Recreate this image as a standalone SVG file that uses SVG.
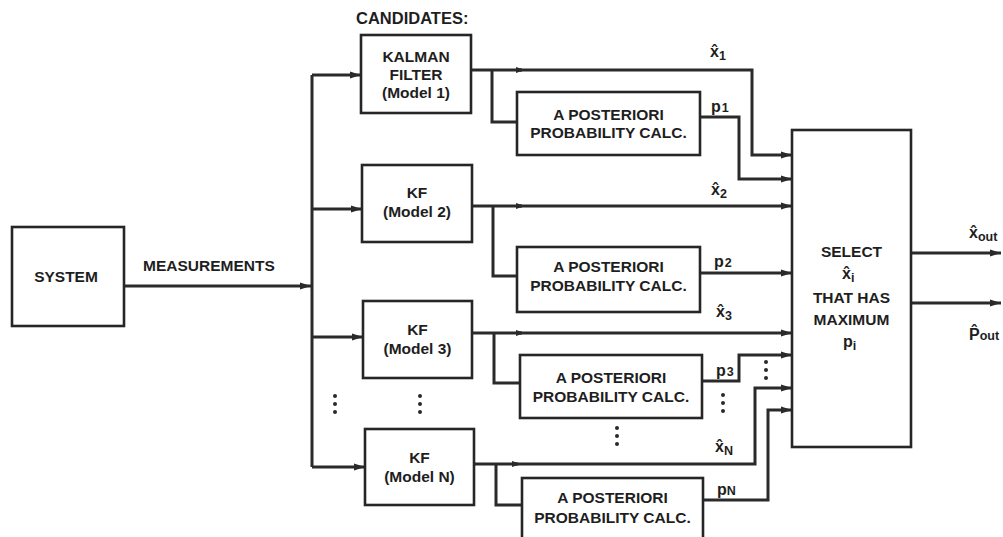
<svg xmlns="http://www.w3.org/2000/svg" width="1003" height="537" viewBox="0 0 1003 537">
<style>
.box{fill:#fff;stroke:#262626;stroke-width:2.6}
.ln{fill:none;stroke:#2a2a2a;stroke-width:3;stroke-linejoin:miter}
text{font-family:"Liberation Sans",Arial,sans-serif;font-weight:bold;fill:#1e1e1e;font-size:15.5px}
.c{text-anchor:middle}
.v{font-size:16px}
.sub{font-size:12.5px}
.dot{fill:#2a2a2a}
</style>
<defs>
<marker id="ah" markerUnits="userSpaceOnUse" markerWidth="12" markerHeight="8" refX="11" refY="4" orient="auto">
<path d="M0,0.5 L11,4 L0,7.5 z" fill="#2a2a2a"/>
</marker>
<marker id="am" markerUnits="userSpaceOnUse" markerWidth="10" markerHeight="8" refX="6" refY="3.5" orient="auto">
<path d="M0,0.5 L9,3.5 L0,6.5 z" fill="#2a2a2a"/>
</marker>
</defs>
<g id="connectors">
<path class="ln" d="M124,286 H311" marker-end="url(#ah)"/>
<path class="ln" d="M312,75 V467"/>
<path class="ln" d="M312,75 H361" marker-end="url(#ah)"/>
<path class="ln" d="M312,209 H362" marker-end="url(#ah)"/>
<path class="ln" d="M312,337 H363" marker-end="url(#ah)"/>
<path class="ln" d="M312,467 H365" marker-end="url(#ah)"/>
<path class="ln" d="M471,70 H522" marker-end="url(#am)"/>
<path class="ln" d="M520,70 H752 V155 H792" marker-end="url(#ah)"/>
<path class="ln" d="M492,70 V122 H517"/>
<path class="ln" d="M700,117 H739 V179 H792" marker-end="url(#ah)"/>
<path class="ln" d="M472,206 H522" marker-end="url(#am)"/>
<path class="ln" d="M520,206 H792" marker-end="url(#ah)"/>
<path class="ln" d="M493,206 V276 H517"/>
<path class="ln" d="M700,273 H792" marker-end="url(#ah)"/>
<path class="ln" d="M472,333 H522" marker-end="url(#am)"/>
<path class="ln" d="M520,333 H792" marker-end="url(#ah)"/>
<path class="ln" d="M494,333 V383 H520"/>
<path class="ln" d="M702,381 H739 V355 H792" marker-end="url(#ah)"/>
<path class="ln" d="M474,464 H518" marker-end="url(#am)"/>
<path class="ln" d="M516,464 H755 V388 H792" marker-end="url(#ah)"/>
<path class="ln" d="M496,464 V505 H522"/>
<path class="ln" d="M703,500 H768 V410 H792" marker-end="url(#ah)"/>
<path class="ln" d="M911,253 H1001" marker-end="url(#ah)"/>
<path class="ln" d="M911,303 H1001" marker-end="url(#ah)"/>
</g>
<g id="system">
<rect class="box" x="12" y="227" width="112" height="99"/>
<text class="c" x="66" y="282">SYSTEM</text>
</g>
<text id="measurements" x="143" y="271">MEASUREMENTS</text>
<text id="candidates" x="356" y="24" style="font-size:16.5px">CANDIDATES:</text>
<g id="kf1">
<rect class="box" x="361" y="35" width="110" height="78"/>
<text class="c" x="416" y="62">KALMAN</text>
<text class="c" x="416" y="80">FILTER</text>
<text class="c" x="416" y="98">(Model 1)</text>
</g>
<g id="kf2">
<rect class="box" x="362" y="165" width="110" height="77"/>
<text class="c" x="417" y="198">KF</text>
<text class="c" x="417" y="217">(Model 2)</text>
</g>
<g id="kf3">
<rect class="box" x="363" y="301" width="109" height="77"/>
<text class="c" x="417.5" y="335">KF</text>
<text class="c" x="417.5" y="354">(Model 3)</text>
</g>
<g id="kfn">
<rect class="box" x="365" y="429" width="109" height="76"/>
<text class="c" x="419.5" y="463">KF</text>
<text class="c" x="419.5" y="482">(Model N)</text>
</g>
<g id="apc1">
<rect class="box" x="517" y="92" width="183" height="63"/>
<text class="c" x="608.5" y="120">A POSTERIORI</text>
<text class="c" x="608.5" y="138">PROBABILITY CALC.</text>
</g>
<g id="apc2">
<rect class="box" x="517" y="247" width="183" height="65"/>
<text class="c" x="608.5" y="272">A POSTERIORI</text>
<text class="c" x="608.5" y="291">PROBABILITY CALC.</text>
</g>
<g id="apc3">
<rect class="box" x="520" y="355" width="182" height="63"/>
<text class="c" x="611" y="383">A POSTERIORI</text>
<text class="c" x="611" y="402">PROBABILITY CALC.</text>
</g>
<g id="apcn">
<rect class="box" x="522" y="478" width="181" height="62"/>
<text class="c" x="612.5" y="503">A POSTERIORI</text>
<text class="c" x="612.5" y="523">PROBABILITY CALC.</text>
</g>
<g id="select">
<rect class="box" x="792" y="130" width="119" height="317"/>
<text class="c" x="851.5" y="257">SELECT</text>
<text class="v" x="842" y="279">x&#x302;<tspan class="sub" dy="3">i</tspan></text>
<text class="c" x="851.5" y="303">THAT HAS</text>
<text class="c" x="851.5" y="325">MAXIMUM</text>
<text class="v" x="843" y="347">p<tspan class="sub" dy="3">i</tspan></text>
</g>
<g id="labels">
<text class="v" x="710" y="57">x&#x302;<tspan class="sub" dy="3">1</tspan></text>
<text class="v" x="711" y="112">p<tspan class="sub" dx="1">1</tspan></text>
<text class="v" x="711" y="195">x&#x302;<tspan class="sub" dy="3">2</tspan></text>
<text class="v" x="714" y="267">p<tspan class="sub" dx="1">2</tspan></text>
<text class="v" x="716" y="317">x&#x302;<tspan class="sub" dy="3">3</tspan></text>
<text class="v" x="716" y="376">p<tspan class="sub" dx="1">3</tspan></text>
<text class="v" x="715" y="452">x&#x302;<tspan class="sub" dy="3">N</tspan></text>
<text class="v" x="717" y="495">p<tspan class="sub">N</tspan></text>
<text class="v" x="969" y="238">x&#x302;<tspan class="sub" dy="3">out</tspan></text>
<text class="v" x="969" y="340">P&#x302;<tspan class="sub">out</tspan></text>
</g>
<g id="ellipses">
<circle class="dot" cx="335" cy="396" r="2"/><circle class="dot" cx="335" cy="404" r="2"/><circle class="dot" cx="335" cy="412" r="2"/>
<circle class="dot" cx="420" cy="396" r="2"/><circle class="dot" cx="420" cy="404" r="2"/><circle class="dot" cx="420" cy="412" r="2"/>
<circle class="dot" cx="617" cy="428" r="2"/><circle class="dot" cx="617" cy="436" r="2"/><circle class="dot" cx="617" cy="444" r="2"/>
<circle class="dot" cx="723" cy="395" r="2"/><circle class="dot" cx="723" cy="403" r="2"/><circle class="dot" cx="723" cy="411" r="2"/>
<circle class="dot" cx="766" cy="362" r="2"/><circle class="dot" cx="766" cy="370" r="2"/><circle class="dot" cx="766" cy="378" r="2"/>
</g>
</svg>
